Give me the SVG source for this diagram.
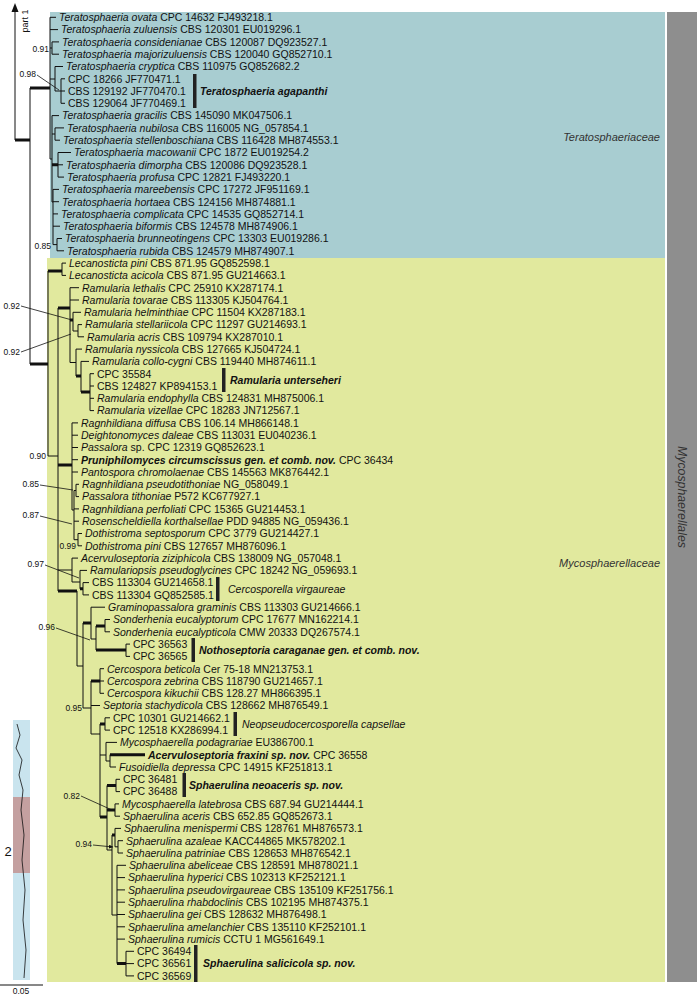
<svg xmlns="http://www.w3.org/2000/svg" width="697" height="995" viewBox="0 0 697 995">
<defs>
<style>
text{font-family:"Liberation Sans",Arial,sans-serif;fill:#111}
.t{font-size:10.5px}
.i{font-style:italic}
.bi{font-style:italic;font-weight:bold}
.s{font-size:8.5px;text-anchor:end}
.fam{font-size:11px;font-style:italic;text-anchor:end;fill:#333}
.ln{fill:none;stroke:#111;stroke-width:1}
.tk{fill:none;stroke:#111;stroke-width:3}
.ld{fill:none;stroke:#111;stroke-width:0.8}
.bar{fill:#222}
</style>
<marker id="ah" viewBox="0 0 6 6" refX="6" refY="3" markerWidth="5" markerHeight="5" orient="auto"><path d="M0,0L6,3L0,6z" fill="#111"/></marker>
</defs>
<rect width="697" height="995" fill="#fff"/>
<g id="backgrounds">
<rect x="50" y="12" width="615" height="246" fill="#a8cdd1"/>
<rect x="47" y="258" width="618" height="724" fill="#e1e99e"/>
<rect x="667" y="12" width="30" height="970" fill="#8e8e8e"/>
<text class="fam" x="660" y="141">Teratosphaeriaceae</text>
<text class="fam" x="660" y="567">Mycosphaerellaceae</text>
<text class="fam" style="text-anchor:middle;font-size:12.3px" transform="translate(678,497) rotate(90)">Mycosphaerellales</text>
</g>
<g id="thumbnail">
<rect x="13" y="720" width="17" height="260" fill="#c9e4ee"/>
<rect x="13" y="797" width="17" height="76" fill="#c4a0a0"/>
<path class="ld" d="M17 724 L20 735 L16 748 L22 760 L19 775 L23 790 L21 810 L24 835 L22 860 L25 890 L23 920 L26 950 L24 978"/>
<text x="8" y="856" style="font-size:13px;text-anchor:middle">2</text>
</g>
<g id="scale">
<path class="ln" d="M0 985 H43"/>
<text x="21" y="994" style="font-size:8.5px;text-anchor:middle">0.05</text>
</g>
<g id="part1">
<path class="ln" d="M15 140 V11"/>
<path d="M15 3 L11.5 12 L18.5 12 Z" fill="#111"/>
<text x="0" y="0" style="font-size:9px;text-anchor:middle" transform="translate(28,21) rotate(-90)">part 1</text>
</g>
<g id="connectors">
<path class="tk" d="M15 140 H30 M30 88 H50 M52 164.8 H58 M30 364 H48 M48 271 H62 M58 308 H70 M70 320 H73 M76 376 H81 M81 392 H90 M58 465 H72 M80 588.8 H83 M58 591 H77 M83 623 H91 M96 626 H105 M96 650 H126 M91 681 H100 M100 724 H105 M110 754.7 H145 M100 817 H107 M107 785.5 H116 M107 810 H115 M112 835 H115 M117 963.6 H126"/>
<path class="ln" d="M30 88 V364
M50 17.3 V159 M50 17.3 H56 M50 29.6 H58
M50 48 H52 M52 41.9 V54.2 M52 41.9 H59 M52 54.2 H59
M50 79 H55 M55 66.5 V91 M55 66.5 H63 M55 91 H61 M61 78.8 V103.3 M61 78.8 H65 M61 91 H65 M61 103.3 H65
M50 159 H52 M52 115.6 V202 M52 115.6 H59
M52 134 H55 M55 127.9 V140.2 M55 127.9 H64 M55 140.2 H60
M58 152.5 V177.1 M58 152.5 H71 M58 164.8 H63 M58 177.1 H64
M52 202 H53 M53 189.4 V244.6 M53 189.4 H59 M53 201.7 H59 M53 213.9 H58 M53 226.2 H60 M53 244.6 H57 M57 238.5 V250.8 M57 238.5 H62 M57 250.8 H64
M48 271 V456 M62 263.1 V275.4 M62 263.1 H66 M62 275.4 H66
M48 456 H58 M58 308 V591
M70 287.7 V362.5 M70 287.7 H79 M70 300 H79 M73 312.3 V331 M73 312.3 H81 M73 331 H78 M78 324.6 V336.8 M78 324.6 H82 M78 336.8 H84
M70 362.5 H76 M76 349.1 V376 M76 349.1 H82 M81 361.4 V392 M81 361.4 H89 M90 373.7 V410.6 M90 373.7 H94 M90 386 H94 M90 398.3 H94 M90 410.6 H94
M72 422.9 V510 M72 422.9 H78 M72 435.2 H78 M72 447.5 H78 M72 459.7 H78 M72 472 H78
M72 510 H74 M74 490.5 V539.7 M74 490.5 H76 M76 484.3 V496.6 M76 484.3 H79 M76 496.6 H79 M74 508.9 H79 M74 521.2 H79 M74 539.7 H78 M78 533.5 V545.8 M78 533.5 H82 M78 545.8 H82
M58 570 H72 M72 558.1 V582 M72 558.1 H78 M72 582 H80 M80 570.4 V588.8 M80 570.4 H87 M83 582.6 V594.9 M83 582.6 H89 M83 594.9 H89
M77 591 V666 M77 666 H83 M83 623 V708
M91 607.2 V639 M91 607.2 H105 M91 639 H96 M96 626 V650 M105 619.5 V631.8 M105 619.5 H110 M105 631.8 H110 M126 644.1 V656.4 M126 644.1 H130 M126 656.4 H130
M83 708 H91 M91 681 V734 M100 668.7 V693.3 M100 668.7 H104 M100 681 H104 M100 693.3 H104 M91 705.5 H100 M91 734 H100
M100 724 V817 M105 717.8 V730.1 M105 717.8 H110 M105 730.1 H110
M100 755 H106 M106 742.4 V761 M106 742.4 H117 M106 761 H110 M110 754.7 V767 M110 767 H116
M107 785.5 V850 M116 779.3 V791.6 M116 779.3 H120 M116 791.6 H120 M115 803.9 V816.2 M115 803.9 H119 M115 816.2 H120
M107 850 H112 M112 835 V915 M115 828.4 V846.8 M115 828.4 H121 M115 846.8 H118 M118 840.7 V853 M118 840.7 H123 M118 853 H123
M112 915 H117 M117 865.3 V963.6 M117 865.3 H126 M117 877.6 H125 M117 889.9 H125 M117 902.2 H125 M117 914.5 H125 M117 926.8 H125 M117 939.1 H125
M126 951.3 V975.9 M126 951.3 H134 M126 963.6 H134 M126 975.9 H134"/>
<path class="ld" marker-end="url(#ah)" d="M37 75 L59 90 M21 306 L72 320 M21 352 L71 334 M40 485 L73 490 M40 516 L72 524 M45 565 L79 578 M56 628 L90 640 M81 796 L112 810 M93 845 L113 847"/>
</g>
<g id="supports">
<text class="s" x="49" y="51.5">0.91</text>
<text class="s" x="36" y="77">0.98</text>
<text class="s" x="51" y="249">0.85</text>
<text class="s" x="20" y="309">0.92</text>
<text class="s" x="20" y="355">0.92</text>
<text class="s" x="46" y="459">0.90</text>
<text class="s" x="39" y="487">0.85</text>
<text class="s" x="39" y="518">0.87</text>
<text class="s" x="76" y="549">0.99</text>
<text class="s" x="44" y="567">0.97</text>
<text class="s" x="55" y="630">0.96</text>
<text class="s" x="82" y="711">0.95</text>
<text class="s" x="80" y="799">0.82</text>
<text class="s" x="92" y="847">0.94</text>
</g>
<g id="clades">
<rect class="bar" x="193" y="74" width="3.5" height="34"/><text class="t" x="200" y="95"><tspan class="bi">Teratosphaeria agapanthi</tspan></text>
<rect class="bar" x="222" y="368" width="3.5" height="24"/><text class="t" x="230" y="384"><tspan class="bi">Ramularia unterseheri</tspan></text>
<rect class="bar" x="216" y="577" width="3.5" height="24"/><text class="t" x="228" y="593"><tspan class="i">Cercosporella virgaureae</tspan></text>
<rect class="bar" x="191.5" y="638" width="3.5" height="24"/><text class="t" x="199" y="654"><tspan class="bi">Nothoseptoria caraganae gen. et comb. nov.</tspan></text>
<rect class="bar" x="233.5" y="712" width="3.5" height="24"/><text class="t" x="242" y="728"><tspan class="i">Neopseudocercosporella capsellae</tspan></text>
<rect class="bar" x="182.5" y="773" width="3.5" height="24"/><text class="t" x="189" y="789"><tspan class="bi">Sphaerulina neoaceris sp. nov.</tspan></text>
<rect class="bar" x="194" y="945" width="3.5" height="37"/><text class="t" x="203" y="967"><tspan class="bi">Sphaerulina salicicola sp. nov.</tspan></text>
</g>
<g id="taxa" class="t">
<g id="r0"><text x="59" y="21.1"><tspan class="i">Teratosphaeria ovata</tspan> CPC 14632 FJ493218.1</text></g>
<g id="r1"><text x="61" y="33.4"><tspan class="i">Teratosphaeria zuluensis</tspan> CBS 120301 EU019296.1</text></g>
<g id="r2"><text x="62" y="45.7"><tspan class="i">Teratosphaeria considenianae</tspan> CBS 120087 DQ923527.1</text></g>
<g id="r3"><text x="62" y="58"><tspan class="i">Teratosphaeria majorizuluensis</tspan> CBS 120040 GQ852710.1</text></g>
<g id="r4"><text x="66" y="70.3"><tspan class="i">Teratosphaeria cryptica</tspan> CBS 110975 GQ852682.2</text></g>
<g id="r5"><text x="68" y="82.6">CPC 18266 JF770471.1</text></g>
<g id="r6"><text x="68" y="94.8">CBS 129192 JF770470.1</text></g>
<g id="r7"><text x="68" y="107.1">CBS 129064 JF770469.1</text></g>
<g id="r8"><text x="62" y="119.4"><tspan class="i">Teratosphaeria gracilis</tspan> CBS 145090 MK047506.1</text></g>
<g id="r9"><text x="67" y="131.7"><tspan class="i">Teratosphaeria nubilosa</tspan> CBS 116005 NG_057854.1</text></g>
<g id="r10"><text x="63" y="144"><tspan class="i">Teratosphaeria stellenboschiana</tspan> CBS 116428 MH874553.1</text></g>
<g id="r11"><text x="74" y="156.3"><tspan class="i">Teratosphaeria macowanii</tspan> CPC 1872 EU019254.2</text></g>
<g id="r12"><text x="66" y="168.6"><tspan class="i">Teratosphaeria dimorpha</tspan> CBS 120086 DQ923528.1</text></g>
<g id="r13"><text x="67" y="180.9"><tspan class="i">Teratosphaeria profusa</tspan> CPC 12821 FJ493220.1</text></g>
<g id="r14"><text x="62" y="193.2"><tspan class="i">Teratosphaeria mareebensis</tspan> CPC 17272 JF951169.1</text></g>
<g id="r15"><text x="62" y="205.5"><tspan class="i">Teratosphaeria hortaea</tspan> CBS 124156 MH874881.1</text></g>
<g id="r16"><text x="61" y="217.7"><tspan class="i">Teratosphaeria complicata</tspan> CPC 14535 GQ852714.1</text></g>
<g id="r17"><text x="63" y="230"><tspan class="i">Teratosphaeria biformis</tspan> CBS 124578 MH874906.1</text></g>
<g id="r18"><text x="65" y="242.3"><tspan class="i">Teratosphaeria brunneotingens</tspan> CPC 13303 EU019286.1</text></g>
<g id="r19"><text x="67" y="254.6"><tspan class="i">Teratosphaeria rubida</tspan> CBS 124579 MH874907.1</text></g>
<g id="r20"><text x="69" y="266.9"><tspan class="i">Lecanosticta pini</tspan> CBS 871.95 GQ852598.1</text></g>
<g id="r21"><text x="69" y="279.2"><tspan class="i">Lecanosticta acicola</tspan> CBS 871.95 GU214663.1</text></g>
<g id="r22"><text x="82" y="291.5"><tspan class="i">Ramularia lethalis</tspan> CPC 25910 KX287174.1</text></g>
<g id="r23"><text x="82" y="303.8"><tspan class="i">Ramularia tovarae</tspan> CBS 113305 KJ504764.1</text></g>
<g id="r24"><text x="84" y="316.1"><tspan class="i">Ramularia helminthiae</tspan> CPC 11504 KX287183.1</text></g>
<g id="r25"><text x="85" y="328.4"><tspan class="i">Ramularia stellariicola</tspan> CPC 11297 GU214693.1</text></g>
<g id="r26"><text x="87" y="340.6"><tspan class="i">Ramularia acris</tspan> CBS 109794 KX287010.1</text></g>
<g id="r27"><text x="85" y="352.9"><tspan class="i">Ramularia nyssicola</tspan> CBS 127665 KJ504724.1</text></g>
<g id="r28"><text x="92" y="365.2"><tspan class="i">Ramularia collo-cygni</tspan> CBS 119440 MH874611.1</text></g>
<g id="r29"><text x="97" y="377.5">CPC 35584</text></g>
<g id="r30"><text x="97" y="389.8">CBS 124827 KP894153.1</text></g>
<g id="r31"><text x="97" y="402.1"><tspan class="i">Ramularia endophylla</tspan> CBS 124831 MH875006.1</text></g>
<g id="r32"><text x="97" y="414.4"><tspan class="i">Ramularia vizellae</tspan> CPC 18283 JN712567.1</text></g>
<g id="r33"><text x="81" y="426.7"><tspan class="i">Ragnhildiana diffusa</tspan> CBS 106.14 MH866148.1</text></g>
<g id="r34"><text x="81" y="439"><tspan class="i">Deightonomyces daleae</tspan> CBS 113031 EU040236.1</text></g>
<g id="r35"><text x="81" y="451.3"><tspan class="i">Passalora</tspan> sp. CPC 12319 GQ852623.1</text></g>
<g id="r36"><text x="81" y="463.5"><tspan class="bi">Pruniphilomyces circumscissus gen. et comb. nov.</tspan> CPC 36434</text></g>
<g id="r37"><text x="81" y="475.8"><tspan class="i">Pantospora chromolaenae</tspan> CBS 145563 MK876442.1</text></g>
<g id="r38"><text x="82" y="488.1"><tspan class="i">Ragnhildiana pseudotithoniae</tspan> NG_058049.1</text></g>
<g id="r39"><text x="82" y="500.4"><tspan class="i">Passalora tithoniae</tspan> P572 KC677927.1</text></g>
<g id="r40"><text x="82" y="512.7"><tspan class="i">Ragnhildiana perfoliati</tspan> CPC 15365 GU214453.1</text></g>
<g id="r41"><text x="82" y="525"><tspan class="i">Rosenscheldiella korthalsellae</tspan> PDD 94885 NG_059436.1</text></g>
<g id="r42"><text x="85" y="537.3"><tspan class="i">Dothistroma septosporum</tspan> CPC 3779 GU214427.1</text></g>
<g id="r43"><text x="85" y="549.6"><tspan class="i">Dothistroma pini</tspan> CBS 127657 MH876096.1</text></g>
<g id="r44"><text x="81" y="561.9"><tspan class="i">Acervuloseptoria ziziphicola</tspan> CBS 138009 NG_057048.1</text></g>
<g id="r45"><text x="90" y="574.2"><tspan class="i">Ramulariopsis pseudoglycines</tspan> CPC 18242 NG_059693.1</text></g>
<g id="r46"><text x="92" y="586.4">CBS 113304 GU214658.1</text></g>
<g id="r47"><text x="92" y="598.7">CBS 113304 GQ852585.1</text></g>
<g id="r48"><text x="108" y="611"><tspan class="i">Graminopassalora graminis</tspan> CBS 113303 GU214666.1</text></g>
<g id="r49"><text x="113" y="623.3"><tspan class="i">Sonderhenia eucalyptorum</tspan> CPC 17677 MN162214.1</text></g>
<g id="r50"><text x="113" y="635.6"><tspan class="i">Sonderhenia eucalypticola</tspan> CMW 20333 DQ267574.1</text></g>
<g id="r51"><text x="133" y="647.9">CPC 36563</text></g>
<g id="r52"><text x="133" y="660.2">CPC 36565</text></g>
<g id="r53"><text x="107" y="672.5"><tspan class="i">Cercospora beticola</tspan> Cer 75-18 MN213753.1</text></g>
<g id="r54"><text x="107" y="684.8"><tspan class="i">Cercospora zebrina</tspan> CBS 118790 GU214657.1</text></g>
<g id="r55"><text x="107" y="697.1"><tspan class="i">Cercospora kikuchii</tspan> CBS 128.27 MH866395.1</text></g>
<g id="r56"><text x="103" y="709.3"><tspan class="i">Septoria stachydicola</tspan> CBS 128662 MH876549.1</text></g>
<g id="r57"><text x="113" y="721.6">CPC 10301 GU214662.1</text></g>
<g id="r58"><text x="113" y="733.9">CPC 12518 KX286994.1</text></g>
<g id="r59"><text x="120" y="746.2"><tspan class="i">Mycosphaerella podagrariae</tspan> EU386700.1</text></g>
<g id="r60"><text x="148" y="758.5"><tspan class="bi">Acervuloseptoria fraxini sp. nov.</tspan> CPC 36558</text></g>
<g id="r61"><text x="119" y="770.8"><tspan class="i">Fusoidiella depressa</tspan> CPC 14915 KF251813.1</text></g>
<g id="r62"><text x="123" y="783.1">CPC 36481</text></g>
<g id="r63"><text x="123" y="795.4">CPC 36488</text></g>
<g id="r64"><text x="122" y="807.7"><tspan class="i">Mycosphaerella latebrosa</tspan> CBS 687.94 GU214444.1</text></g>
<g id="r65"><text x="123" y="820"><tspan class="i">Sphaerulina aceris</tspan> CBS 652.85 GQ852673.1</text></g>
<g id="r66"><text x="124" y="832.2"><tspan class="i">Sphaerulina menispermi</tspan> CBS 128761 MH876573.1</text></g>
<g id="r67"><text x="126" y="844.5"><tspan class="i">Sphaerulina azaleae</tspan> KACC44865 MK578202.1</text></g>
<g id="r68"><text x="126" y="856.8"><tspan class="i">Sphaerulina patriniae</tspan> CBS 128653 MH876542.1</text></g>
<g id="r69"><text x="129" y="869.1"><tspan class="i">Sphaerulina abeliceae</tspan> CBS 128591 MH878021.1</text></g>
<g id="r70"><text x="128" y="881.4"><tspan class="i">Sphaerulina hyperici</tspan> CBS 102313 KF252121.1</text></g>
<g id="r71"><text x="128" y="893.7"><tspan class="i">Sphaerulina pseudovirgaureae</tspan> CBS 135109 KF251756.1</text></g>
<g id="r72"><text x="128" y="906"><tspan class="i">Sphaerulina rhabdoclinis</tspan> CBS 102195 MH874375.1</text></g>
<g id="r73"><text x="128" y="918.3"><tspan class="i">Sphaerulina gei</tspan> CBS 128632 MH876498.1</text></g>
<g id="r74"><text x="128" y="930.6"><tspan class="i">Sphaerulina amelanchier</tspan> CBS 135110 KF252101.1</text></g>
<g id="r75"><text x="128" y="942.9"><tspan class="i">Sphaerulina rumicis</tspan> CCTU 1 MG561649.1</text></g>
<g id="r76"><text x="137" y="955.1">CPC 36494</text></g>
<g id="r77"><text x="137" y="967.4">CPC 36561</text></g>
<g id="r78"><text x="137" y="979.7">CPC 36569</text></g>
</g>
</svg>
